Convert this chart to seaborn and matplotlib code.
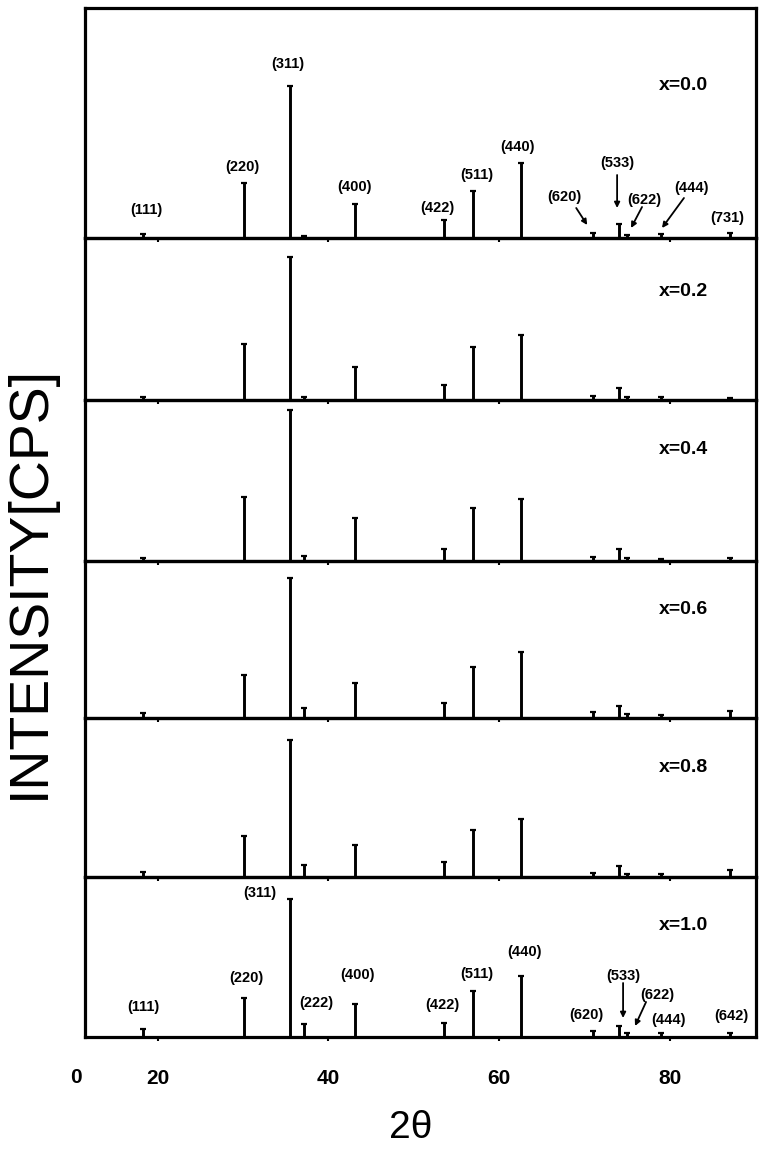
import numpy as np
import pandas as pd
import matplotlib
matplotlib.use("Agg")
import matplotlib.pyplot as plt
import seaborn as sns

# ---------------- data ----------------
compositions = ["x=0.0", "x=0.2", "x=0.4", "x=0.6", "x=0.8", "x=1.0"]
hkl = ["(111)", "(220)", "(311)", "(222)", "(400)", "(422)", "(511)",
       "(440)", "(620)", "(533)", "(622)", "(444)", "(642)"]
two_theta = [18.3, 30.1, 35.5, 37.1, 43.1, 53.5, 57.0, 62.6, 71.0, 74.0, 75.0, 79.0, 87.0]
I_x00 = [4, 55, 152, 2, 34, 18, 47, 75, 5, 14, 3, 4, 5]
I_x02 = [3, 56, 143, 3, 33, 15, 53, 65, 4, 12, 3, 3, 2]
I_x04 = [3, 64, 151, 5, 43, 12, 53, 62, 4, 12, 3, 2, 3]
I_x06 = [5, 43, 140, 10, 35, 15, 51, 66, 6, 12, 4, 3, 7]
I_x08 = [5, 41, 137, 12, 32, 15, 47, 58, 4, 11, 3, 3, 7]
I_x10 = [8, 39, 138, 13, 33, 14, 46, 61, 6, 11, 4, 4, 4]
intensities = [I_x00, I_x02, I_x04, I_x06, I_x08, I_x10]
xtick_values = [20, 40, 60, 80]
xtick_labels = ["20", "40", "60", "80"]

# ---------------- annotation layout ----------------
top_labels = [("(111)", 18.66, 28), ("(220)", 29.88, 71), ("(311)", 35.25, 174),
              ("(400)", 43.08, 51), ("(422)", 52.8, 30), ("(511)", 57.35, 63),
              ("(440)", 62.14, 91), ("(620)", 67.63, 41), ("(533)", 73.83, 75),
              ("(622)", 76.98, 38), ("(444)", 82.6, 50), ("(731)", 86.7, 20)]
top_arrows = [((69.04, 30), (70.33, 13)), ((73.83, 63), (73.83, 30)),
              ((76.75, 31), (75.46, 10)), ((81.66, 40), (79.09, 10))]
bot_labels = [("(111)", 18.3, 30), ("(220)", 30.46, 59), ("(311)", 31.98, 144),
              ("(222)", 38.65, 34), ("(400)", 43.44, 62), ("(422)", 53.37, 32),
              ("(511)", 57.35, 63), ("(440)", 62.96, 85), ("(620)", 70.2, 22),
              ("(533)", 74.53, 61), ("(622)", 78.5, 42), ("(444)", 79.9, 17),
              ("(642)", 87.27, 21)]
bot_arrows = [((74.53, 54), (74.53, 19)), ((77.22, 35), (75.93, 11))]

panel_px = [230, 162, 161, 157, 159, 160]
comp_label_y = [153, 108, 111, 108, 109, 112]

# ---------------- style ----------------
sns.set_theme(style="white")
plt.rcParams["font.family"] = ["Liberation Sans", "DejaVu Sans"]
plt.rcParams["text.color"] = "black"
plt.rcParams["xtick.color"] = "black"
plt.rcParams["axes.labelcolor"] = "black"

W, H = 759, 1152
fig = plt.figure(figsize=(W / 100, H / 100), dpi=100)
gs = fig.add_gridspec(6, 1, height_ratios=panel_px, hspace=0,
                      left=85 / W, right=756 / W, top=1 - 8 / H, bottom=1 - 1037 / H)

axes = []
for i, (comp, inten) in enumerate(zip(compositions, intensities)):
    ax = fig.add_subplot(gs[i])
    ax.set_facecolor("none")
    axes.append(ax)
    rows = []
    for k, (tt, h) in enumerate(zip(two_theta, inten)):
        rows.append({"peak": k, "two_theta": tt, "I": 0})
        rows.append({"peak": k, "two_theta": tt, "I": h})
    df = pd.DataFrame(rows)
    sns.lineplot(data=df, x="two_theta", y="I", units="peak", estimator=None,
                 sort=False, color="black", linewidth=2.1, ax=ax, legend=False)
    ax.plot(two_theta, inten, linestyle="none", marker="_", markersize=5,
            markeredgewidth=1.6, color="black")
    ax.set_xlim(11.5, 90.1)
    ax.set_ylim(0, panel_px[i])
    ax.set_xlabel("")
    ax.set_ylabel("")
    ax.set_yticks([])
    ax.set_xticks(xtick_values)
    ax.tick_params(axis="x", direction="out", length=3, width=1.5, color="black",
                   bottom=True, labelbottom=(i == 5), pad=20,
                   labelsize=15, labelcolor="black")
    for sp in ax.spines.values():
        sp.set_visible(True)
        sp.set_color("black")
        sp.set_linewidth(2.3)
    ax.text(78.7, comp_label_y[i], comp, fontsize=14, fontweight="bold",
            ha="left", va="center", color="black")

axes[-1].set_xticklabels(xtick_labels, fontweight="bold")

label_kw = dict(fontsize=10.5, fontweight="bold", ha="center", va="center", color="black")
for txt, x, y in top_labels:
    axes[0].text(x, y, txt, **label_kw)
for (x0, y0), (x1, y1) in top_arrows:
    axes[0].annotate("", xy=(x1, y1), xytext=(x0, y0),
                     arrowprops=dict(arrowstyle="-|>", color="black", lw=1.3,
                                     mutation_scale=8, shrinkA=0, shrinkB=0))
for txt, x, y in bot_labels:
    axes[-1].text(x, y, txt, **label_kw)
for (x0, y0), (x1, y1) in bot_arrows:
    axes[-1].annotate("", xy=(x1, y1), xytext=(x0, y0),
                      arrowprops=dict(arrowstyle="-|>", color="black", lw=1.3,
                                      mutation_scale=8, shrinkA=0, shrinkB=0))

# leftmost "0" axis label, as on the original scan
axes[-1].text(10.4, -0.256, "0", transform=axes[-1].get_xaxis_transform(),
              fontsize=15, fontweight="bold", ha="center", va="center", color="black")

fig.text(411 / W, 1 - 1128 / H, "2θ", fontsize=28, ha="center", va="center", color="black")
fig.text(30 / W, 1 - 582 / H, "INTENSITY[CPS]", fontsize=40, rotation=90,
         ha="center", va="center", color="black")

fig.savefig("out.png", dpi=100)
